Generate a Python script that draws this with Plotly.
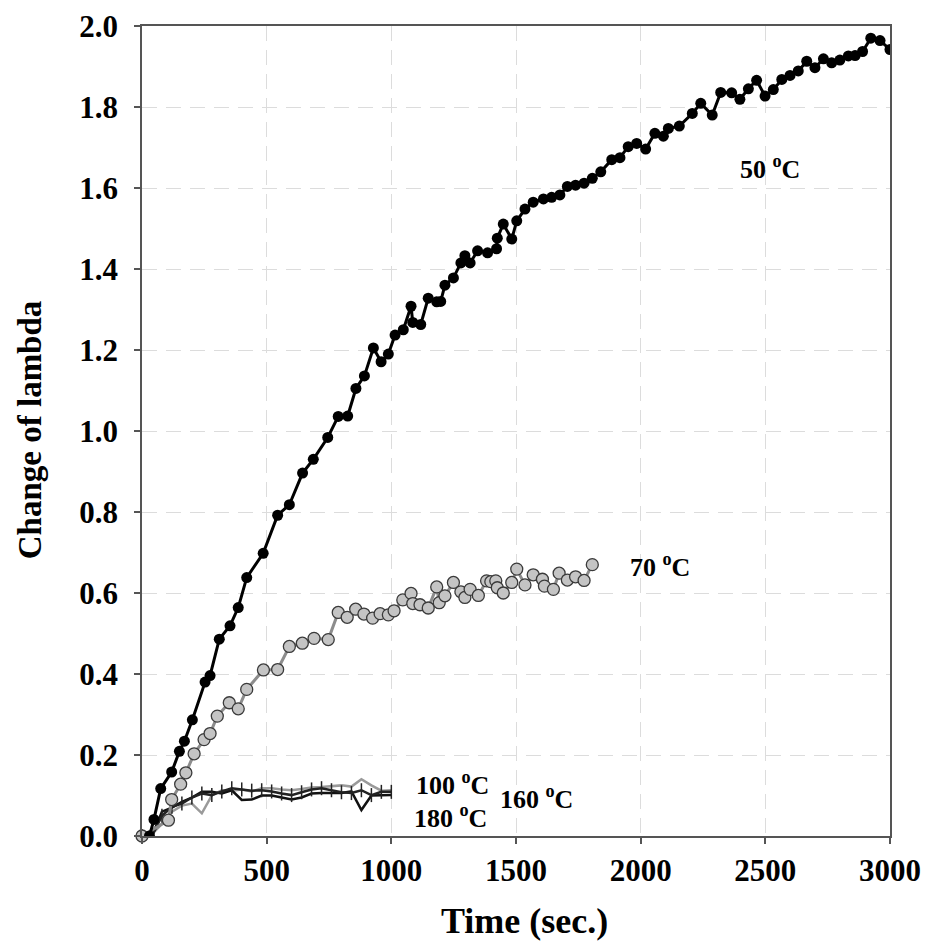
import plotly.graph_objects as go

# ---- data ----
t50 = [30,48,75,119,150,170,202,253,273,310,353,386,420,486,544,591,644,687,745,787,
       825,858,892,928,959,988,1015,1048,1079,1086,1118,1148,1182,1198,1215,1249,1279,1295,1316,1346,
       1386,1422,1425,1449,1483,1503,1536,1569,1610,1643,1676,1706,1739,1773,1806,1840,1884,1917,1950,1984,
       2020,2057,2091,2111,2155,2207,2241,2287,2321,2365,2398,2432,2465,2499,2532,2566,2599,2632,2666,2699,
       2733,2766,2799,2833,2860,2890,2923,2960,3000]
y50 = [0.0,0.041,0.117,0.158,0.209,0.234,0.287,0.38,0.396,0.486,0.519,0.564,0.638,0.698,0.792,0.818,0.896,0.93,0.984,1.036,
       1.037,1.105,1.136,1.205,1.171,1.19,1.237,1.25,1.308,1.268,1.263,1.328,1.319,1.32,1.36,1.378,1.415,1.433,1.415,1.445,
       1.44,1.45,1.476,1.511,1.474,1.519,1.548,1.565,1.573,1.577,1.583,1.604,1.607,1.612,1.624,1.64,1.67,1.675,1.702,1.71,
       1.696,1.735,1.728,1.747,1.753,1.784,1.809,1.78,1.836,1.835,1.819,1.845,1.866,1.827,1.843,1.868,1.878,1.889,1.913,1.897,
       1.919,1.909,1.916,1.926,1.927,1.937,1.97,1.964,1.942]

t70 = [0,106,119,155,176,209,249,273,302,350,386,420,487,544,591,643,690,747,787,823,
       857,890,925,955,988,1011,1046,1079,1086,1115,1148,1182,1192,1215,1249,1279,1295,1316,1349,1382,
       1399,1419,1425,1449,1483,1503,1536,1569,1606,1614,1650,1673,1706,1739,1773,1806]
y70 = [0.0,0.039,0.09,0.128,0.156,0.203,0.238,0.253,0.296,0.329,0.314,0.362,0.41,0.411,0.468,0.476,0.488,0.485,0.552,0.54,
       0.56,0.548,0.538,0.549,0.546,0.556,0.583,0.599,0.574,0.571,0.563,0.615,0.576,0.593,0.626,0.603,0.589,0.609,0.594,0.63,
       0.628,0.63,0.613,0.6,0.626,0.659,0.62,0.645,0.634,0.617,0.609,0.649,0.632,0.64,0.631,0.67]

t_low = [0,40,80,120,160,200,240,280,320,360,400,440,480,520,560,600,640,680,720,760,800,840,880,920,960,1000]
y100 = [0,0.005,0.03,0.06,0.075,0.08,0.056,0.1,0.113,0.112,0.115,0.11,0.118,0.118,0.115,0.113,0.116,0.12,0.121,0.123,
        0.125,0.122,0.14,0.125,0.112,0.113]
y160 = [0,0.0,0.05,0.072,0.08,0.095,0.105,0.101,0.11,0.118,0.115,0.112,0.113,0.11,0.105,0.101,0.108,0.115,0.118,0.113,
        0.108,0.106,0.113,0.101,0.109,0.109]
y180 = [0,0.0,0.06,0.07,0.084,0.095,0.109,0.109,0.105,0.113,0.089,0.09,0.1,0.1,0.095,0.09,0.095,0.105,0.106,0.106,
        0.106,0.11,0.064,0.1,0.101,0.101]

labels = {"50 <sup>o</sup>C": (2519, 1.651), "70 <sup>o</sup>C": (2078, 0.667),
          "100 <sup>o</sup>C": (1247, 0.130), "180 <sup>o</sup>C": (1239, 0.047),
          "160 <sup>o</sup>C": (1584, 0.096)}

x_ticks = [0, 500, 1000, 1500, 2000, 2500, 3000]
y_ticks = [0.0, 0.2, 0.4, 0.6, 0.8, 1.0, 1.2, 1.4, 1.6, 1.8, 2.0]
x_title = "Time (sec.)"
y_title = "Change of lambda"

FONT = "Liberation Serif, Times New Roman, serif"

fig = go.Figure()
fig.add_trace(go.Scatter(x=t_low, y=y100, mode="lines", line=dict(color="#9a9a9a", width=2.5), showlegend=False))
fig.add_trace(go.Scatter(x=t_low, y=y180, mode="lines", line=dict(color="#111111", width=2.5), showlegend=False))
fig.add_trace(go.Scatter(x=t_low, y=y160, mode="lines+markers", line=dict(color="#222222", width=2.5),
                         marker=dict(symbol="line-ns", size=10, line=dict(color="#222222", width=1.5)),
                         showlegend=False))
fig.add_trace(go.Scatter(x=t70, y=y70, mode="lines+markers", line=dict(color="#8c8c8c", width=3),
                         marker=dict(symbol="circle", size=12, color="#c4c4c4", line=dict(color="#3a3a3a", width=1.3)),
                         cliponaxis=False, showlegend=False))
fig.add_trace(go.Scatter(x=t50, y=y50, mode="lines+markers", line=dict(color="#000000", width=3),
                         marker=dict(symbol="circle", size=11, color="#000000"), showlegend=False))

for txt, (x, y) in labels.items():
    fig.add_annotation(x=x, y=y, text=txt, showarrow=False,
                       font=dict(family=FONT, size=26, color="black", weight="bold"))

# axis titles as paper-anchored annotations
fig.add_annotation(xref="paper", yref="paper", x=0.512, y=-0.105, text=x_title, showarrow=False,
                   xanchor="center", yanchor="middle",
                   font=dict(family=FONT, size=36, color="black", weight="bold"))
fig.add_annotation(xref="paper", yref="paper", x=-0.1497, y=0.501, text=y_title, showarrow=False,
                   xanchor="center", yanchor="middle", textangle=-90,
                   font=dict(family=FONT, size=33, color="black", weight="bold"))

axis_common = dict(showline=True, linecolor="#555555", linewidth=1.5, mirror=True,
                   ticks="outside", ticklen=6, tickcolor="#555555", tickwidth=1.5,
                   showgrid=True, gridcolor="#dcdcdc", griddash="15px,9px", gridwidth=1.2,
                   zeroline=False, ticklabeloverflow="allow", automargin=False,
                   tickfont=dict(family=FONT, size=31, color="black", weight="bold"))

fig.update_xaxes(range=[0, 3000], tickvals=x_ticks, ticktext=[str(v) for v in x_ticks], **axis_common)
fig.update_yaxes(range=[0, 2.0], tickvals=y_ticks, ticktext=[f"{v:.1f}" for v in y_ticks],
                 ticklabelstandoff=10, **axis_common)

fig.update_layout(width=913, height=935, plot_bgcolor="white", paper_bgcolor="white",
                  margin=dict(l=134, r=31, t=18, b=107, autoexpand=False), showlegend=False)

fig.write_html("out.html")
